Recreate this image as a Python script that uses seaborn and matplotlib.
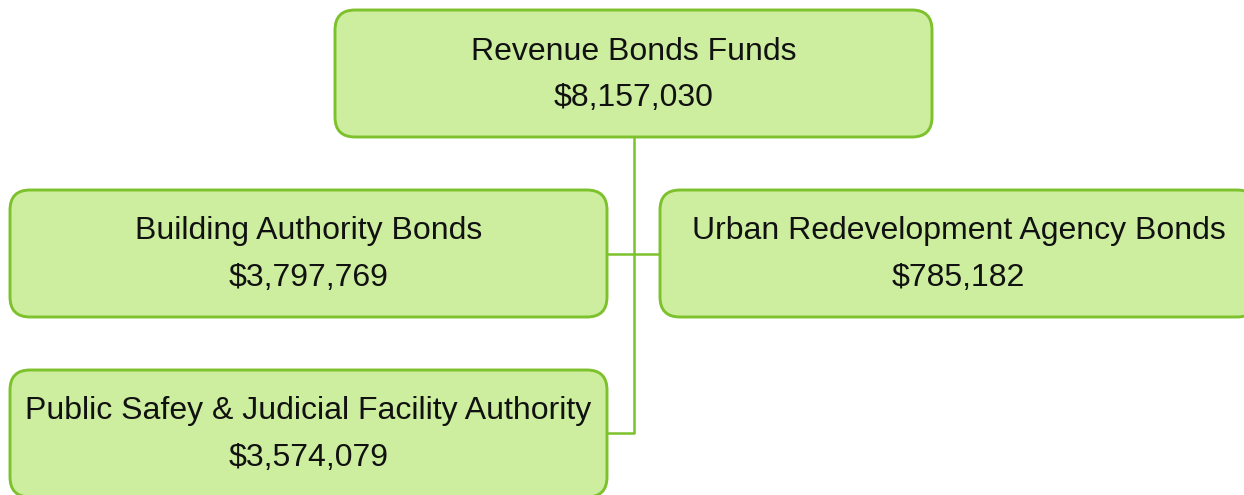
import matplotlib
matplotlib.use("Agg")
import matplotlib.pyplot as plt
from matplotlib.patches import FancyBboxPatch
import seaborn as sns

# ---- data ----
names = ["Revenue Bonds Funds", "Building Authority Bonds",
         "Urban Redevelopment Agency Bonds", "Public Safey & Judicial Facility Authority"]
amounts = [8157030, 3797769, 785182, 3574079]

# ---- layout (pixels) ----
box_w, box_h = 597, 127
boxes_xy = [(335, 10), (10, 190), (660, 190), (10, 370)]

sns.set_theme(style="white")
plt.rcParams['font.family'] = ['Liberation Sans', 'DejaVu Sans']

fill = "#CCEE9E"
edge = "#7DC12C"

fig = plt.figure(figsize=(12.44, 4.95), dpi=100)
ax = fig.add_axes([0, 0, 1, 1])
ax.set_xlim(0, 1244)
ax.set_ylim(495, 0)
ax.axis("off")

# connectors
trunk_x = 634
lw_line = 1.8
ax.plot([trunk_x, trunk_x], [136, 433], color=edge, lw=lw_line, zorder=1, solid_capstyle="butt")
ax.plot([607, 660], [254, 254], color=edge, lw=lw_line, zorder=1)
ax.plot([607, trunk_x], [433, 433], color=edge, lw=lw_line, zorder=1)

r = 20
for (x, y), name, amt in zip(boxes_xy, names, amounts):
    p = FancyBboxPatch((x + r, y + r), box_w - 2 * r, box_h - 2 * r,
                       boxstyle=f"round,pad={r}", facecolor=fill, edgecolor=edge,
                       linewidth=2.1, zorder=2)
    ax.add_patch(p)
    cx = x + box_w / 2
    cy = y + box_h / 2
    ax.text(cx, cy - 22, name, ha="center", va="center", fontsize=23, color="#111111", zorder=3)
    ax.text(cx, cy + 25, f"${amt:,}", ha="center", va="center", fontsize=23, color="#111111", zorder=3)

fig.savefig("out.png", dpi=100)
